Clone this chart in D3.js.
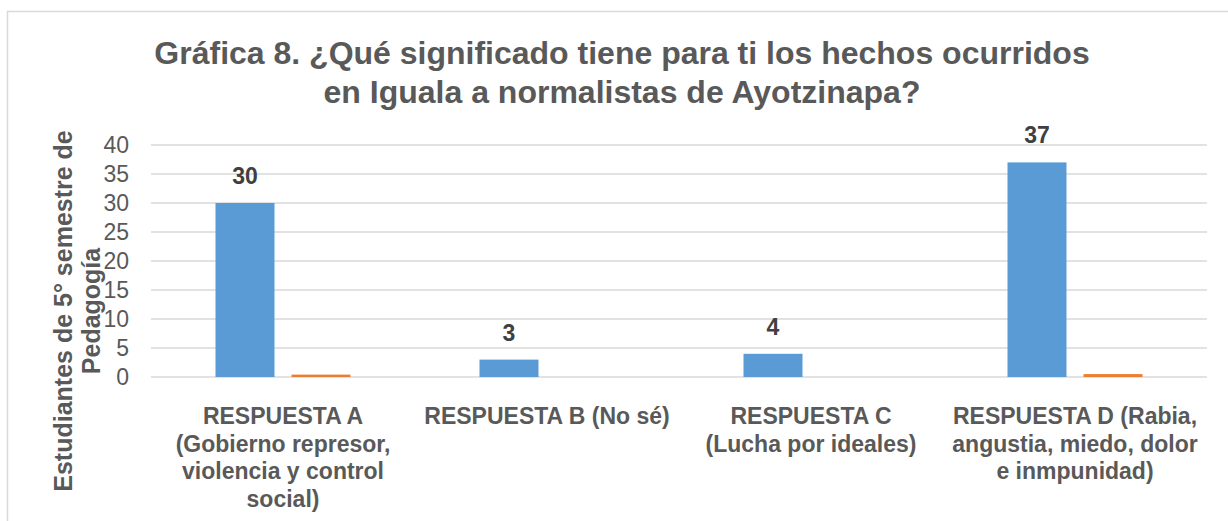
<!DOCTYPE html>
<html>
<head>
<meta charset="utf-8">
<script src="https://cdn.jsdelivr.net/npm/d3@7"></script>
<style>
  html,body{margin:0;padding:0;background:#fff;}
  svg{display:block;font-family:"Liberation Sans",Arial,sans-serif;}
</style>
</head>
<body>
<svg id="chart" width="1228" height="521"></svg>
<script>
/* Gráfica 8 — barras agrupadas (serie azul: estudiantes, serie naranja: proporción) */
const CATEGORIES = ["A","B","C","D"];
const CAT_LABELS = [
  ["RESPUESTA A","(Gobierno represor,","violencia y control","social)"],
  ["RESPUESTA B (No sé)"],
  ["RESPUESTA C","(Lucha por ideales)"],
  ["RESPUESTA D (Rabia,","angustia, miedo, dolor","e inmpunidad)"]
];
const SERIES = ["Estudiantes","Porcentaje"];
const VALUES_STUDENTS = [30, 3, 4, 37];
const VALUES_SHARE = [0.41, 0, 0, 0.5];
const Y_TICKS = [0,5,10,15,20,25,30,35,40];
const TITLE = ["Gráfica 8. ¿Qué significado tiene para ti los hechos ocurridos",
               "en Iguala a normalistas de Ayotzinapa?"];
const Y_TITLE = ["Estudiantes de 5° semestre de","Pedagogía"];

const COLORS = {Estudiantes:"#5B9BD5", Porcentaje:"#ED7D31"};
const GRID = "#D9D9D9";

const svg = d3.select("#chart");
const plot = {left:151, right:1207, top:145, bottom:377};

/* marco */
svg.append("rect").attr("x",7.5).attr("y",11.5).attr("width",1240).attr("height",540)
  .attr("fill","none").attr("stroke",GRID).attr("stroke-width",1.5);

/* título */
svg.append("text").attr("x",622).attr("y",64)
  .attr("text-anchor","middle").attr("font-size",32).attr("font-weight","bold")
  .attr("fill","#595959")
  .selectAll("tspan").data(TITLE).join("tspan")
  .attr("x",622).attr("dy",(d,i)=>i?39:0).text(d=>d);

/* escalas */
const y = d3.scaleLinear().domain([0,40]).range([plot.bottom, plot.top]);
const x0 = d3.scaleBand().domain(CATEGORIES).range([plot.left, plot.right]).padding(0);
const groupW = 135;
const x1 = d3.scaleBand().domain(SERIES).range([0, groupW]).paddingInner(17/76).paddingOuter(0);

/* rejilla */
svg.append("g").selectAll("line").data(Y_TICKS).join("line")
  .attr("x1",plot.left).attr("x2",plot.right)
  .attr("y1",d=>y(d)).attr("y2",d=>y(d))
  .attr("stroke",GRID).attr("stroke-width",1.5);

/* eje y */
const yAxis = svg.append("g").attr("transform",`translate(${plot.left},0)`)
  .call(d3.axisLeft(y).tickValues(Y_TICKS).tickSize(0).tickPadding(22));
yAxis.select(".domain").remove();
yAxis.selectAll("text").attr("font-size",23).attr("fill","#595959")
  .attr("font-family","Liberation Sans, Arial, sans-serif");

/* barras */
const rows = CATEGORIES.map((c,i)=>({cat:c, vals:[
  {s:"Estudiantes", v:VALUES_STUDENTS[i]},
  {s:"Porcentaje", v:VALUES_SHARE[i]}]}));
const g = svg.append("g").selectAll("g").data(rows).join("g")
  .attr("transform",d=>`translate(${x0(d.cat)+x0.bandwidth()/2-groupW/2},0)`);
g.selectAll("rect").data(d=>d.vals.filter(e=>e.v>0)).join("rect")
  .attr("x",d=>x1(d.s)).attr("width",x1.bandwidth())
  .attr("y",d=>y(d.v)).attr("height",d=>y(0)-y(d.v))
  .attr("fill",d=>COLORS[d.s]);

/* etiquetas de datos */
g.append("text")
  .attr("x",x1("Estudiantes")+x1.bandwidth()/2)
  .attr("y",(d,i)=>y(VALUES_STUDENTS[i])-19)
  .attr("text-anchor","middle").attr("font-size",23).attr("font-weight","bold")
  .attr("fill","#404040").text((d,i)=>VALUES_STUDENTS[i]);

/* etiquetas de categoría */
svg.append("g").selectAll("text").data(CATEGORIES).join("text")
  .attr("text-anchor","middle").attr("font-size",23).attr("font-weight","bold")
  .attr("fill","#595959")
  .attr("transform",d=>`translate(${x0(d)+x0.bandwidth()/2},424)`)
  .selectAll("tspan").data((d,i)=>CAT_LABELS[i]).join("tspan")
  .attr("x",0).attr("y",(d,i)=>i*27.5).text(d=>d);

/* título eje y */
svg.append("text").attr("transform","translate(72,311) rotate(-90)")
  .attr("text-anchor","middle").attr("font-size",25).attr("font-weight","bold")
  .attr("fill","#595959")
  .selectAll("tspan").data(Y_TITLE).join("tspan")
  .attr("x",0).attr("y",(d,i)=>i*28).text(d=>d);
</script>
</body>
</html>
